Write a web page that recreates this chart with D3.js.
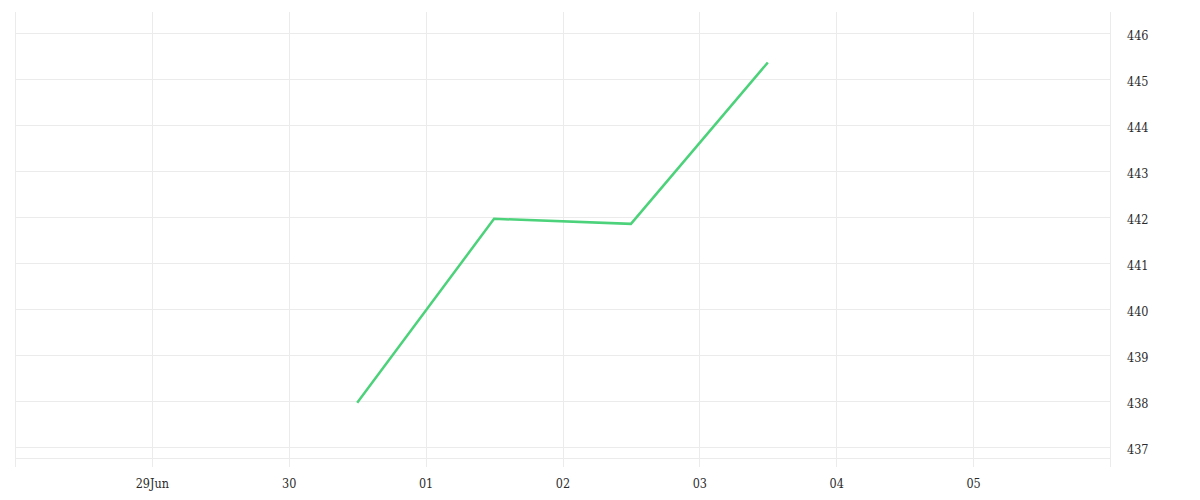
<!DOCTYPE html>
<html>
<head>
<meta charset="utf-8">
<script src="https://cdn.jsdelivr.net/npm/d3@7"></script>
<style>
  body { margin: 0; background: #fff; }
  text { font-family: "DejaVu Serif Condensed", "DejaVu Serif", serif; font-stretch: condensed; }
</style>
</head>
<body>
<svg id="chart" width="1200" height="500"></svg>
<script>
// data
const dates = ["2024-06-30T12:00", "2024-07-01T12:00", "2024-07-02T12:00", "2024-07-03T12:00"];
const values = [437.96, 441.96, 441.85, 445.36];
const xDomain = ["2024-06-28T00:00", "2024-07-06T00:00"];
const yTicks = [437, 438, 439, 440, 441, 442, 443, 444, 445, 446];
const yDomain = [436.56, 446.46];

const width = 1200;
const height = 500;
const margins = { top: 12, right: 90, bottom: 33, left: 15 };
const innerWidth = width - margins.left - margins.right;
const innerHeight = height - margins.top - margins.bottom;

const parse = d3.timeParse("%Y-%m-%dT%H:%M");
const data = dates.map((d, i) => ({ date: parse(d), value: values[i] }));

const svg = d3.select("#chart");
const g = svg.append("g").attr("transform", `translate(${margins.left},${margins.top})`);

const x = d3.scaleTime().domain(xDomain.map(parse)).range([0, innerWidth]);
const y = d3.scaleLinear().domain(yDomain).range([innerHeight, 0]);

const days = d3.timeDay.range(x.domain()[0], d3.timeDay.offset(x.domain()[1], 1));
const grid = "#ebebeb";

//* vertical grid
g.selectAll(".vgrid")
  .data(days)
  .join("line")
  .attr("class", "vgrid")
  .attr("x1", d => Math.round(x(d)) + 0.5)
  .attr("x2", d => Math.round(x(d)) + 0.5)
  .attr("y1", 0)
  .attr("y2", innerHeight)
  .attr("stroke", grid);

//* horizontal grid
g.selectAll(".hgrid")
  .data(yTicks)
  .join("line")
  .attr("class", "hgrid")
  .attr("x1", 0)
  .attr("x2", innerWidth)
  .attr("y1", d => Math.round(y(d)) + 0.5)
  .attr("y2", d => Math.round(y(d)) + 0.5)
  .attr("stroke", grid);

// baseline just above the bottom edge
g.append("line")
  .attr("x1", 0)
  .attr("x2", innerWidth)
  .attr("y1", innerHeight - 8.5)
  .attr("y2", innerHeight - 8.5)
  .attr("stroke", grid);

//* x axis labels
const labelDays = days.filter(d => d > x.domain()[0] && d < x.domain()[1]);
const xAxis = g.append("g")
  .attr("transform", `translate(0,${innerHeight})`)
  .call(d3.axisBottom(x)
    .tickValues(labelDays)
    .tickSize(0)
    .tickPadding(12)
    .tickFormat((d, i) => i === 0 ? d3.timeFormat("%d%b")(d) : d3.timeFormat("%d")(d)));
xAxis.select(".domain").remove();
xAxis.selectAll("text")
  .attr("font-size", 12.5)
  .attr("font-family", null)
  .attr("fill", "#2b2b2b");

//* y axis labels
const yAxis = g.append("g")
  .attr("transform", `translate(${innerWidth},0)`)
  .call(d3.axisRight(y).tickValues(yTicks).tickSize(0).tickPadding(17).tickFormat(d3.format("d")));
yAxis.select(".domain").remove();
yAxis.selectAll("text")
  .attr("font-size", 12.5)
  .attr("font-family", null)
  .attr("dy", "0.5em")
  .attr("fill", "#2b2b2b");

//* line
const line = d3.line()
  .x(d => x(d.date))
  .y(d => y(d.value));

g.append("path")
  .datum(data)
  .attr("d", line)
  .attr("fill", "none")
  .attr("stroke", "#4cd27a")
  .attr("stroke-width", 2.5)
  .attr("stroke-linejoin", "miter");
</script>
</body>
</html>
